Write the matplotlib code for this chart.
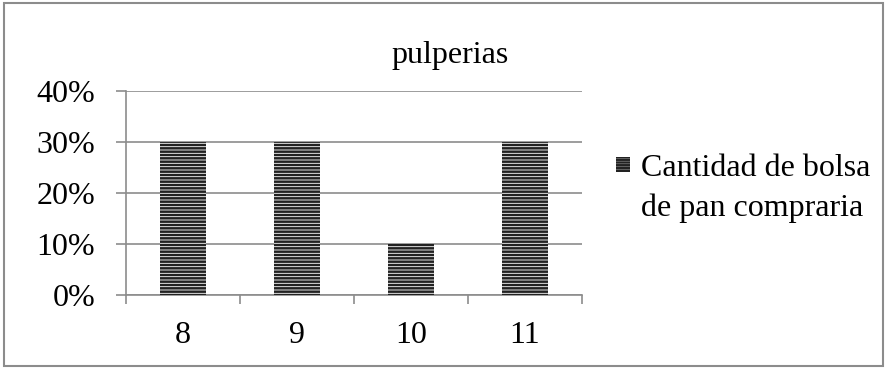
import matplotlib.pyplot as plt
from matplotlib.patches import Rectangle
from matplotlib.ticker import PercentFormatter

plt.rcParams['font.family'] = ['Liberation Serif', 'DejaVu Serif']
plt.rcParams['hatch.linewidth'] = 1.8

# datos
categorias = ['8', '9', '10', '11']
valores = [0.30, 0.30, 0.10, 0.30]
titulo = 'pulperias'
serie = 'Cantidad de bolsa\nde pan compraria'

gris = '#8c8c8c'
fs = 23

fig = plt.figure(figsize=(8.88, 3.69), dpi=100)
# marco exterior
fig.patches.append(Rectangle((0.005, 0.008), 0.989, 0.984, transform=fig.transFigure,
                             fill=False, edgecolor=gris, linewidth=1.5))

ax = fig.add_axes([0.1418, 0.2005, 0.5135, 0.5528])
x = range(len(categorias))
ax.bar(x, valores, width=0.4, color='white', edgecolor='#222222', linewidth=0,
       hatch='-----', zorder=3)

ax.set_xlim(-0.5, len(categorias) - 0.5)
ax.set_ylim(0, 0.4)
ax.set_yticks([0, 0.1, 0.2, 0.3, 0.4])
ax.yaxis.set_major_formatter(PercentFormatter(1.0, decimals=0))
ax.set_xticks([i - 0.5 for i in range(len(categorias) + 1)], minor=False)
ax.set_xticklabels([''] * (len(categorias) + 1))
ax.set_xticks(list(x), minor=True)
ax.set_xticklabels(categorias, minor=True)
ax.tick_params(axis='x', which='minor', length=0, labelsize=fs, pad=19)
ax.tick_params(axis='x', which='major', length=6.5, color=gris, width=1.2, direction='out')
ax.tick_params(axis='y', length=7, color=gris, width=1.2, labelsize=fs, pad=15)

ax.grid(axis='y', color=gris, linewidth=1.2, zorder=0)
for s in ['top', 'right']:
    ax.spines[s].set_visible(False)
for s in ['left', 'bottom']:
    ax.spines[s].set_color(gris)
    ax.spines[s].set_linewidth(1.2)

fig.text(0.507, 0.85, titulo, ha='center', va='center', fontsize=fs)

# leyenda
fig.patches.append(Rectangle((0.6935, 0.535), 0.0155, 0.04, transform=fig.transFigure,
                             facecolor='white', edgecolor='#222222', linewidth=0,
                             hatch='------'))
fig.text(0.722, 0.49, serie, ha='left', va='center', fontsize=fs, linespacing=1.45)

fig.savefig('out.png', dpi=100)
